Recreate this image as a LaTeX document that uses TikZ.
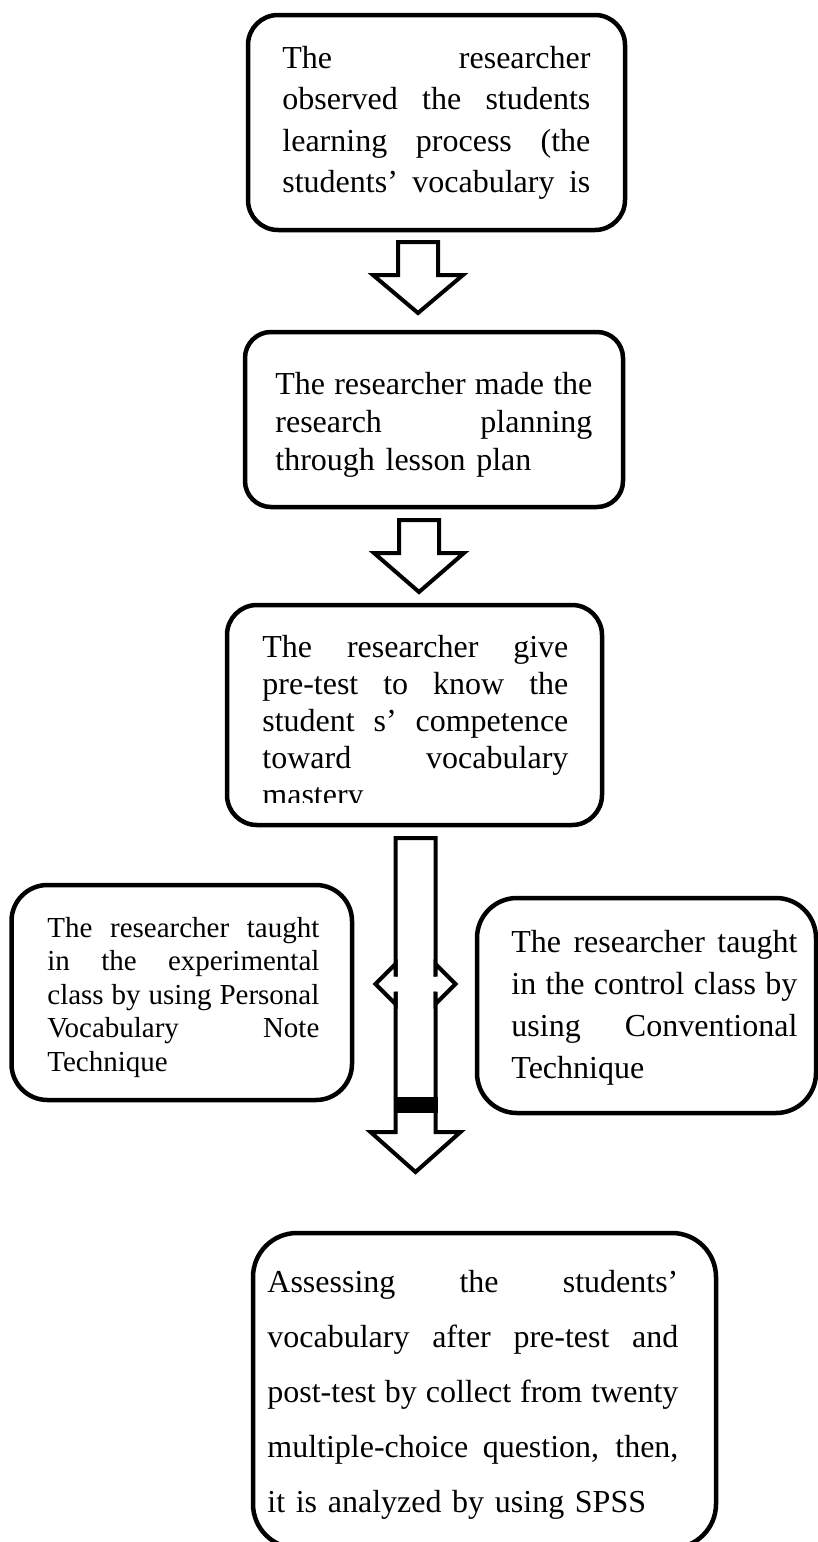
\documentclass[tikz,border=0pt]{standalone}
\usepackage{fontspec}
\setmainfont{Liberation Serif}
\usetikzlibrary{calc}

% one justified line of a box text
\newlength{\jw}
\newcommand{\jline}[1]{\makebox[\jw][s]{\spaceskip=.25em plus 1fil\relax #1}}
% hollow block arrow pointing down: top centre, shaft length, head length
\newcommand{\fatdown}[3]{%
  \draw[fatarrow] #1 ++(-20,0) -- ++(40,0) -- ++(0,-#2) -- ++(25,0)
    -- ++(-45,-#3) -- ++(-45,#3) -- ++(25,0) -- cycle;}

\begin{document}
\begin{tikzpicture}[x=0.5pt, y=0.5pt,
        frame/.style={draw, rectangle, line width=2.25pt, outer sep=0pt, rounded corners=15pt},
        txt/.style 2 args={inner sep=0pt, anchor=base west, text width=#1,
            execute at begin node={\setlength{\jw}{#1}}, font=\fontsize{16pt}{#2}\selectfont},
        fatarrow/.style={draw, fill=white, line width=2pt, line join=miter}
    ]
\useasboundingbox (0,0) rectangle (818,-1542);

\node[frame, minimum width=188.5pt, minimum height=107.5pt] (observe) at (436.5,-122.5) {};
        \node[txt={154pt}{20.8pt}] (observe-t) at (282,-68) {\jline{The researcher}\\ \jline{observed the students}\\ \jline{learning process (the}\\ \jline{students’ vocabulary is}};

        \node[frame, rounded corners=13pt, minimum width=189pt, minimum height=87.5pt] (plan) at (434,-419.5) {};
        \node[txt={158.5pt}{19pt}] (plan-t) at (275,-394) {\jline{The researcher made the}\\ \jline{research planning}\\ through lesson plan};

        \node[frame, minimum width=187.5pt, minimum height=110pt] (pretest) at (414.5,-715) {};
        \begin{scope}
        \clip (pretest.north west) rectangle (602,-802);
        \node[txt={153pt}{18.5pt}] (pretest-t) at (262,-657) {\jline{The researcher give}\\ \jline{pre-test to know the}\\ \jline{student s’ competence}\\ \jline{toward vocabulary}\\ mastery};
        \end{scope}

        \node[frame, rounded corners=18pt, minimum width=170.25pt, minimum height=107.5pt] (experiment) at (181.75,-992.5) {};
        \node[txt={136pt}{16.8pt}, font=\fontsize{14.5pt}{16.8pt}\selectfont] (experiment-t) at (47,-937) {\jline{The researcher taught}\\ \jline{in the experimental}\\ \jline{class by using Personal}\\ \jline{Vocabulary Note}\\ Technique};

        \node[frame, rounded corners=20pt, minimum width=169.5pt, minimum height=107.5pt] (control) at (646.5,-1005.5) {};
        \node[txt={143pt}{21pt}] (control-t) at (511,-952) {\jline{The researcher taught}\\ \jline{in the control class by}\\ \jline{using Conventional}\\ Technique};

        \node[frame, rounded corners=22pt, minimum width=231.5pt, minimum height=157.5pt] (assess) at (484.5,-1390.5) {};
        \node[txt={205.5pt}{27.5pt}] (assess-t) at (267,-1292) {\jline{Assessing the students’}\\ \jline{vocabulary after pre-test and}\\ \jline{post-test by collect from twenty}\\ \jline{multiple-choice question, then,}\\ it is analyzed by using SPSS};

\coordinate (a1) at ($(observe.south)+(-18.5,-12)$);
        \coordinate (a2) at ($(plan.south)+(-15,-13)$);
        \coordinate (a3) at ($(pretest.south)+(1,-13)$);
        \coordinate (split) at ($(a3)+(0,-146)$);

        \fatdown{(a1)}{33}{38}
        \fatdown{(a2)}{33}{39}
        \fatdown{(a3)}{294}{40}

        % sideways heads across the long shaft
        \fill[white] (split) ++(-40,0) -- ++(20,20) -- ++(0,-12.5) -- ++(40,0) -- ++(0,12.5) -- ++(20,-20)
            -- ++(-20,-20) -- ++(0,12.5) -- ++(-40,0) -- ++(0,-12.5) -- cycle;
        \draw[line width=2pt, line join=miter] (split) ++(-20,7.5) -- ++(0,12.5) -- ++(-20,-20) -- ++(20,-20) -- ++(0,12.5);
        \draw[line width=2pt, line join=miter] (split) ++(20,7.5) -- ++(0,12.5) -- ++(20,-20) -- ++(-20,-20) -- ++(0,12.5);
        \fill ($(a3)+(-22,-259)$) rectangle ++(44,-16);

    \end{tikzpicture}
\end{document}
